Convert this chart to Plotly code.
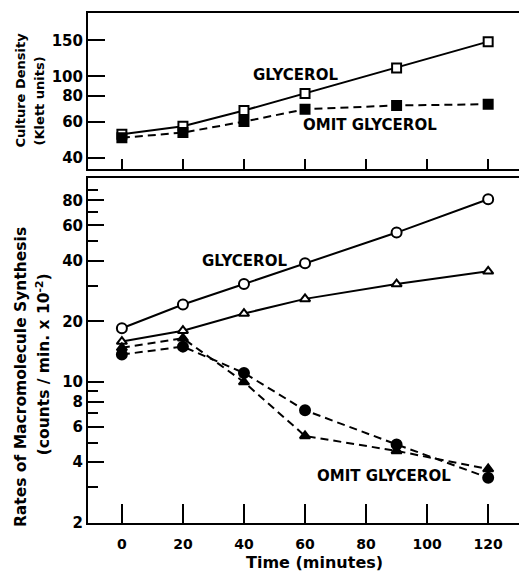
import numpy as np
import plotly.graph_objects as go

# ---- data ----
time_min = [0, 20, 40, 60, 90, 120]
density_glycerol = [52, 57, 68, 82.5, 110, 148]
density_omit = [50, 53, 60, 69, 72, 73]
rate_circle_glycerol = [18.5, 24.3, 30.7, 38.9, 55.3, 81]
rate_triangle_glycerol = [15.9, 18.0, 21.9, 25.9, 30.7, 35.5]
rate_triangle_omit = [14.8, 16.5, 10.0, 5.4, 4.55, 3.7]
rate_circle_omit = [13.7, 15.0, 11.1, 7.24, 4.9, 3.35]

x_ticks = [0, 20, 40, 60, 80, 100, 120]
top_y_ticks = [40, 60, 80, 100, 150]
bot_y_ticks = [2, 4, 6, 8, 10, 20, 40, 60, 80]
bot_y_minor = [3, 5, 7, 9, 30, 50, 70, 90]

FONT = "DejaVu Sans"
BLACK = "black"

W, H = 519, 581
x_dom = [88 / W, 1.0]
top_dom = [1 - 172 / H, 1 - 13 / H]
bot_dom = [1 - 531 / H, 1 - 181 / H]
x_range = [-11.1, 130.1]

fig = go.Figure()

def add(x, y, xa, ya, symbol, fill, dash):
    fig.add_trace(go.Scatter(
        x=x, y=y, xaxis=xa, yaxis=ya, mode="lines+markers",
        line=dict(color=BLACK, width=2, dash=dash),
        marker=dict(symbol=symbol, size=9 if "square" in symbol or "triangle" in symbol else 10,
                    color=fill, line=dict(color=BLACK, width=2)),
        showlegend=False, hoverinfo="skip"))

DASH = "8px,5px"
add(time_min, density_glycerol, "x", "y", "square", "white", "solid")
add(time_min, density_omit, "x", "y", "square", BLACK, DASH)
add(time_min, rate_circle_glycerol, "x2", "y2", "circle", "white", "solid")
add(time_min, rate_triangle_glycerol, "x2", "y2", "triangle-up", "white", "solid")
add(time_min, rate_triangle_omit, "x2", "y2", "triangle-up", BLACK, DASH)
add(time_min, rate_circle_omit, "x2", "y2", "circle", BLACK, DASH)

ytickfont = dict(family=FONT, size=15, color=BLACK, weight="bold")
xtickfont = dict(family=FONT, size=14, color=BLACK, weight="bold")

common_x = dict(range=x_range, domain=x_dom, tickmode="array", tickvals=x_ticks,
                ticks="inside", tickcolor=BLACK, tickwidth=2, showgrid=False,
                zeroline=False)

fig.update_layout(
    width=W, height=H, margin=dict(l=0, r=0, t=0, b=0),
    paper_bgcolor="white", plot_bgcolor="white",
    xaxis=dict(**common_x, anchor="y", ticklen=10, showticklabels=False,
               showline=True, linecolor=BLACK, linewidth=2, mirror=True),
    xaxis3=dict(**common_x, anchor="y", overlaying="x", side="top", ticklen=10,
                showticklabels=False, showline=False),
    xaxis2=dict(**common_x, anchor="y2", ticklen=19, showticklabels=True,
                tickfont=xtickfont, ticklabelstandoff=7,
                showline=True, linecolor=BLACK, linewidth=2, mirror=True),
    xaxis4=dict(**common_x, anchor="y2", overlaying="x2", side="top", ticklen=10,
                showticklabels=False, showline=False),
    yaxis=dict(type="log", domain=top_dom, anchor="x",
               range=[np.log10(35), np.log10(205)],
               tickmode="array", tickvals=top_y_ticks, ticktext=[str(v) for v in top_y_ticks],
               ticks="inside", ticklen=17, tickwidth=2, tickcolor=BLACK,
               tickfont=ytickfont, showgrid=False, zeroline=False,
               showline=True, linecolor=BLACK, linewidth=2, mirror=False),
    yaxis3=dict(type="log", domain=top_dom, anchor="x", overlaying="y", side="right",
                range=[np.log10(35), np.log10(205)],
                tickmode="array", tickvals=top_y_ticks,
                ticks="inside", ticklen=12, tickwidth=2, tickcolor=BLACK,
                showticklabels=False, showgrid=False, zeroline=False, showline=False),
    yaxis2=dict(type="log", domain=bot_dom, anchor="x2",
                range=[np.log10(2), np.log10(103)],
                tickmode="array", tickvals=bot_y_ticks, ticktext=[str(v) for v in bot_y_ticks],
                ticks="inside", ticklen=16, tickwidth=2, tickcolor=BLACK,
                minor=dict(tickmode="array", tickvals=bot_y_minor, ticks="inside",
                           ticklen=10, tickwidth=2, tickcolor=BLACK, showgrid=False),
                tickfont=ytickfont, showgrid=False, zeroline=False,
                showline=True, linecolor=BLACK, linewidth=2, mirror=False),
    yaxis4=dict(type="log", domain=bot_dom, anchor="x2", overlaying="y2", side="right",
                range=[np.log10(2), np.log10(103)],
                tickmode="array", tickvals=bot_y_ticks,
                ticks="inside", ticklen=12, tickwidth=2, tickcolor=BLACK,
                minor=dict(tickmode="array", tickvals=bot_y_minor, ticks="inside",
                           ticklen=9, tickwidth=2, tickcolor=BLACK, showgrid=False),
                showticklabels=False, showgrid=False, zeroline=False, showline=False),
)

lab = dict(family=FONT, size=15, color=BLACK, weight="bold")

def data_note(text, x, y, xa, ya):
    fig.add_annotation(text=text, x=x, y=np.log10(y), xref=xa, yref=ya,
                       showarrow=False, font=lab, xanchor="center", yanchor="middle")

data_note("GLYCEROL", 56.8, 102, "x", "y")
data_note("OMIT GLYCEROL", 81.3, 57.8, "x", "y")
data_note("GLYCEROL", 40.2, 39.9, "x2", "y2")
data_note("OMIT GLYCEROL", 85.9, 3.40, "x2", "y2")

def paper_note(text, px, py, size, angle=0):
    fig.add_annotation(text=text, x=px / W, y=1 - py / H, xref="paper", yref="paper",
                       showarrow=False, textangle=angle,
                       font=dict(family=FONT, size=size, color=BLACK, weight="bold"),
                       xanchor="center", yanchor="middle")

paper_note("Culture Density", 21, 92, 13, -90)
paper_note("(Klett units)", 39, 103, 13, -90)
paper_note("Rates of Macromolecule Synthesis", 21, 383, 15.5, -90)
paper_note("(counts / min. x 10<sup>-2</sup>)", 43, 370, 15.5, -90)
paper_note("Time (minutes)", 314, 571, 16)

fig.write_html("out.html")
